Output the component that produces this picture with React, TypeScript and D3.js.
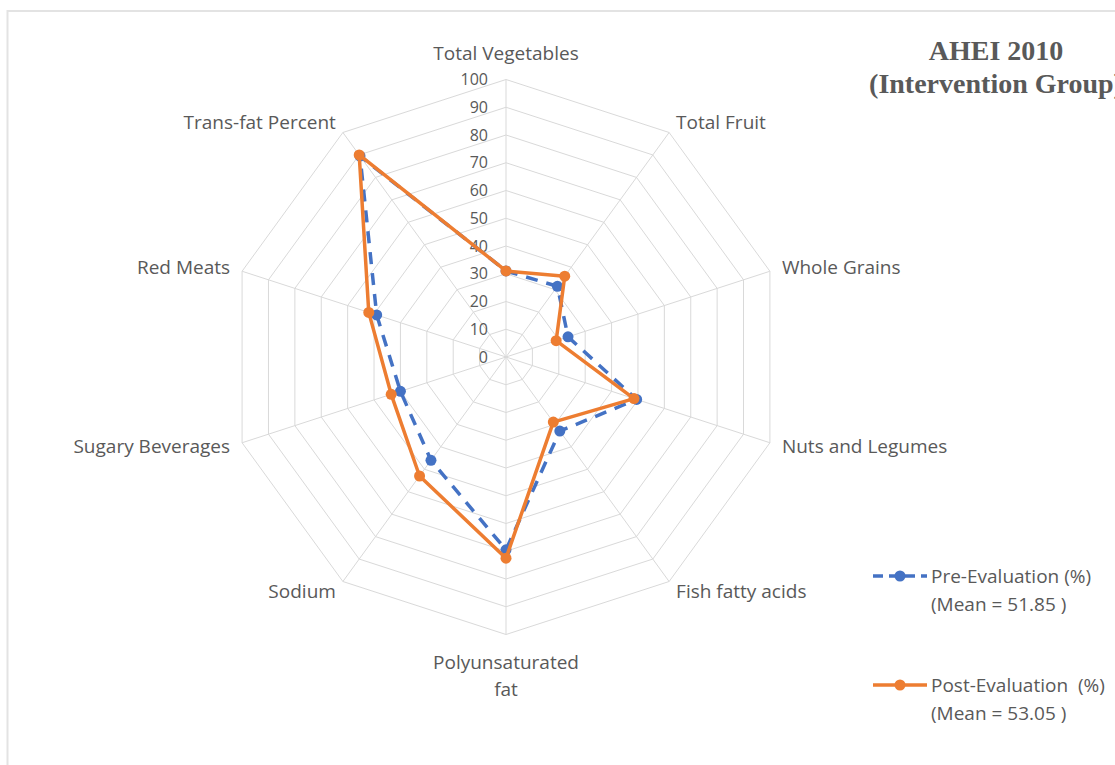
import React, { useEffect, useRef } from 'react';
import * as d3 from 'd3';

const categories = [
  ['Total Vegetables'],
  ['Total Fruit'],
  ['Whole Grains'],
  ['Nuts and Legumes'],
  ['Fish fatty acids'],
  ['Polyunsaturated', 'fat'],
  ['Sodium'],
  ['Sugary Beverages'],
  ['Red Meats'],
  ['Trans-fat Percent'],
];
const preValues = [31, 31.5, 23.5, 49.5, 33, 69.5, 46, 40, 49, 89.5];
const postValues = [31, 36, 19, 48.5, 29, 72.5, 53, 43.5, 52, 90];
const tickValues = [0, 10, 20, 30, 40, 50, 60, 70, 80, 90, 100];
const legendLabels = [
  ['Pre-Evaluation (%)', '(Mean = 51.85 )'],
  ['Post-Evaluation \u00a0(%)', '(Mean = 53.05 )'],
];
const titleLines = ['AHEI 2010', '(Intervention Group)'];

const W = 1115;
const H = 765;
const FONT = "'Open Sans', 'Noto Sans', sans-serif";
const GREY = '#595959';

const App = () => {
  const svgRef = useRef<SVGSVGElement>(null);

  useEffect(() => {
    const svg = d3.select(svgRef.current);
    svg.selectAll('*').remove();

    const cx = 506;
    const cy = 357;
    const radius = 277.5;
    const n = categories.length;

    const r = d3.scaleLinear().domain([0, 100]).range([0, radius]);
    const angle = (i: number) => (i * 2 * Math.PI) / n;
    const pt = (i: number, v: number): [number, number] => [
      cx + r(v) * Math.sin(angle(i)),
      cy - r(v) * Math.cos(angle(i)),
    ];

    // chart area border
    svg.append('path')
      .attr('d', `M7.5,${H} V11 H${W}`)
      .attr('fill', 'none')
      .attr('stroke', '#e3e3e3')
      .attr('stroke-width', 2);

    const grid = svg.append('g');
    // rings
    tickValues.filter(t => t > 0).forEach(t => {
      const ring = d3.range(n).map(i => pt(i, t));
      grid.append('path')
        .attr('d', d3.line()(ring) + 'Z')
        .attr('fill', 'none')
        .attr('stroke', '#d9d9d9')
        .attr('stroke-width', 1);
    });
    // spokes
    d3.range(n).forEach(i => {
      const [x, y] = pt(i, 100);
      grid.append('line')
        .attr('x1', cx).attr('y1', cy).attr('x2', x).attr('y2', y)
        .attr('stroke', '#d9d9d9')
        .attr('stroke-width', 1);
    });

    // tick labels
    svg.append('g').selectAll('text')
      .data(tickValues)
      .enter().append('text')
      .attr('x', cx - 18)
      .attr('y', d => cy - r(d))
      .attr('dy', '0.35em')
      .attr('text-anchor', 'end')
      .attr('font-family', FONT)
      .attr('font-size', 16)
      .attr('fill', GREY)
      .text(d => d);

    // category labels
    const labelG = svg.append('g');
    categories.forEach((lines, i) => {
      const [x, y] = pt(i, 100);
      const a = angle(i);
      const s = Math.sin(a);
      let anchor = 'middle';
      let lx = x;
      let ly = y;
      if (Math.abs(s) < 0.01) {
        ly = Math.cos(a) > 0 ? y - 26 : y + 28;
      } else if (s > 0) {
        anchor = 'start';
        lx = x + (Math.abs(s) > 0.9 ? 12 : 7);
        ly = y + (Math.cos(a) > 0 ? -10 : 10) * (Math.abs(s) > 0.9 ? 0.4 : 1);
      } else {
        anchor = 'end';
        lx = x - (Math.abs(s) > 0.9 ? 12 : 7);
        ly = y + (Math.cos(a) > 0 ? -10 : 10) * (Math.abs(s) > 0.9 ? 0.4 : 1);
      }
      const t = labelG.append('text')
        .attr('x', lx)
        .attr('y', ly)
        .attr('text-anchor', anchor)
        .attr('font-family', FONT)
        .attr('font-size', 19)
        .attr('fill', GREY);
      lines.forEach((line, k) => {
        t.append('tspan')
          .attr('x', lx)
          .attr('dy', k === 0 ? '0.35em' : '1.42em')
          .text(line);
      });
    });

    const series = [
      { values: preValues, color: '#4472c4', dash: '12,9' },
      { values: postValues, color: '#ed7d31', dash: null },
    ];

    const line = d3.line().curve(d3.curveLinearClosed);
    series.forEach(s => {
      const pts = s.values.map((v, i) => pt(i, v));
      svg.append('path')
        .attr('d', line(pts))
        .attr('fill', 'none')
        .attr('stroke', s.color)
        .attr('stroke-width', 3.5)
        .attr('stroke-linejoin', 'round')
        .attr('stroke-dasharray', s.dash);
      svg.append('g').selectAll('circle')
        .data(pts)
        .enter().append('circle')
        .attr('cx', d => d[0])
        .attr('cy', d => d[1])
        .attr('r', 5.5)
        .attr('fill', s.color);
    });

    // legend
    const legendY = [576, 685];
    series.forEach((s, i) => {
      const g = svg.append('g').attr('transform', `translate(873,${legendY[i]})`);
      g.append('line')
        .attr('x1', 0).attr('x2', 54).attr('y1', 0).attr('y2', 0)
        .attr('stroke', s.color)
        .attr('stroke-width', 3.5)
        .attr('stroke-dasharray', s.dash ? '10,6' : null);
      g.append('circle').attr('cx', 27).attr('cy', 0).attr('r', 5.5).attr('fill', s.color);
      const t = g.append('text')
        .attr('x', 58)
        .attr('y', 0)
        .attr('font-family', FONT)
        .attr('font-size', 19)
        .attr('fill', GREY);
      legendLabels[i].forEach((txt, k) => {
        t.append('tspan').attr('x', 58).attr('dy', k === 0 ? '0.35em' : '1.5em').text(txt);
      });
    });

    // title
    const title = svg.append('text')
      .attr('x', 996)
      .attr('y', 50)
      .attr('text-anchor', 'middle')
      .attr('font-family', "'Liberation Serif', 'Times New Roman', serif")
      .attr('font-weight', 'bold')
      .attr('font-size', 28)
      .attr('fill', GREY);
    titleLines.forEach((txt, k) => {
      title.append('tspan').attr('x', 996).attr('dy', k === 0 ? '0.35em' : '1.2em').text(txt);
    });
  }, []);

  return (
    <svg
      ref={svgRef}
      width={W}
      height={H}
      style={{ position: 'absolute', left: 0, top: 0, background: '#fff' }}
    />
  );
};

export default App;
